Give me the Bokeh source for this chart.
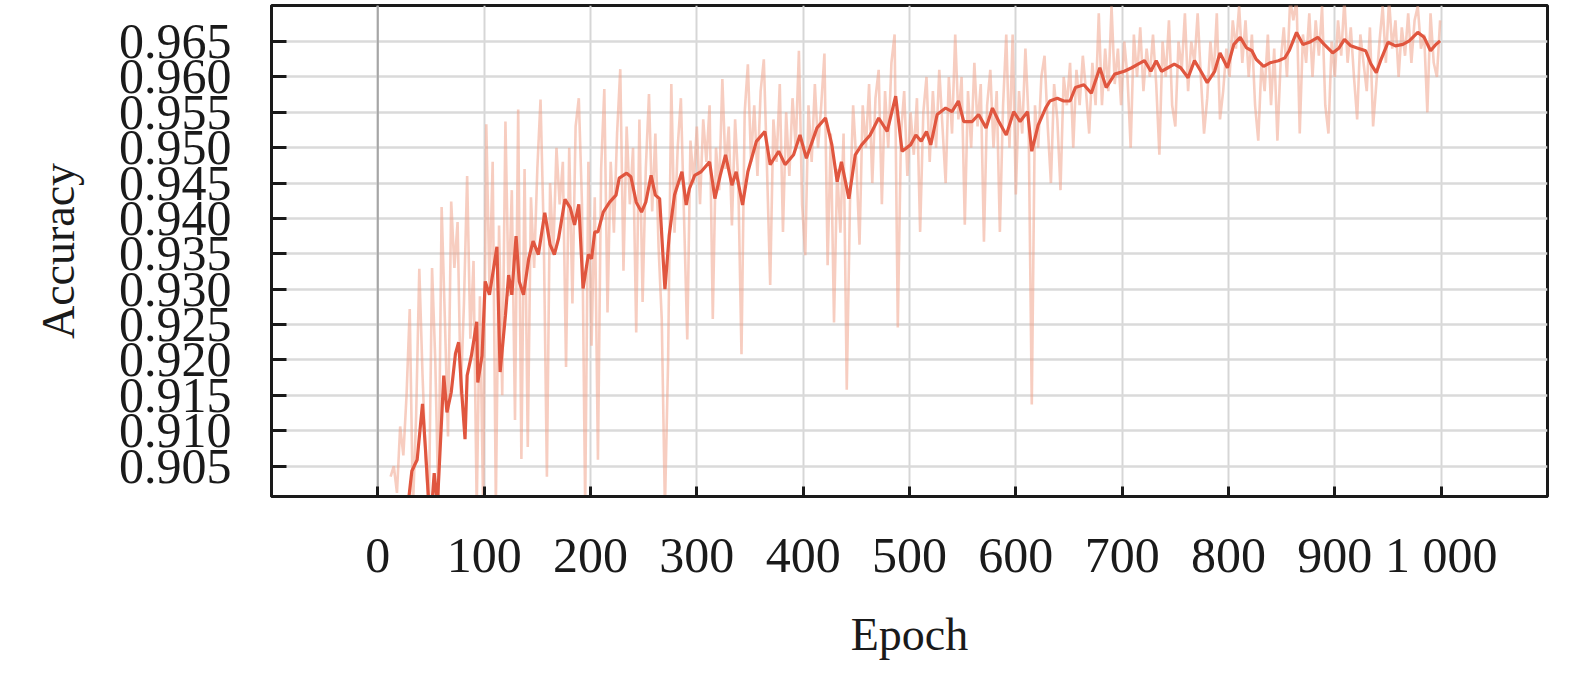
from bokeh.plotting import figure
from bokeh.models import FixedTicker, Range1d, Span, PrintfTickFormatter, ColumnDataSource
from bokeh.embed import file_html
from bokeh.resources import INLINE

# ---------------- data ----------------
x_ticks = [0, 100, 200, 300, 400, 500, 600, 700, 800, 900, 1000]
x_tick_labels = ["0", "100", "200", "300", "400", "500", "600", "700", "800", "900", "1 000"]
y_ticks = [0.905, 0.910, 0.915, 0.920, 0.925, 0.930, 0.935, 0.940, 0.945, 0.950, 0.955, 0.960, 0.965]

smooth_epoch = [28, 32, 37, 42, 45, 48, 51, 53, 56, 62, 65, 69, 73, 76, 79, 82, 84, 88, 93, 94,
                98, 101, 105, 112, 115, 120, 123, 126, 130, 133, 137, 142, 146, 151, 157, 162, 166,
                170, 176, 181, 185, 189, 193, 198, 201, 204, 207, 212, 218, 224, 227, 234, 238, 243,
                248, 252, 257, 261, 265, 270, 274, 279, 286, 290, 293, 298, 304, 312, 317, 322, 327,
                333, 337, 343, 348, 356, 364, 369, 377, 383, 391, 397, 403, 413, 421, 427, 432, 436,
                443, 449, 455, 463, 471, 479, 487, 493, 501, 506, 511, 516, 520, 526, 534, 540, 546,
                551, 559, 565, 572, 578, 584, 591, 598, 604, 611, 615, 621, 628, 632, 639, 645, 651,
                656, 664, 671, 679, 685, 693, 702, 709, 715, 721, 727, 732, 737, 743, 749, 755, 762,
                768, 774, 780, 787, 792, 799, 805, 811, 817, 822, 826, 833, 839, 847, 853, 857, 864,
                870, 876, 884, 890, 898, 904, 909, 915, 921, 929, 934, 939, 943, 950, 957, 964, 970,
                978, 984, 990, 995, 999]
smooth_acc = [0.8990, 0.9043, 0.9059, 0.9138, 0.9069, 0.8995, 0.8998, 0.9040, 0.8995, 0.9178,
              0.9126, 0.9154, 0.9209, 0.9225, 0.9152, 0.9088, 0.9178, 0.9206, 0.9254, 0.9168,
              0.9206, 0.9311, 0.9292, 0.9360, 0.9183, 0.9263, 0.9320, 0.9292, 0.9375, 0.9311,
              0.9292, 0.9344, 0.9368, 0.9349, 0.9408, 0.9363, 0.9349, 0.9372, 0.9427, 0.9415,
              0.9391, 0.9420, 0.9301, 0.9349, 0.9343, 0.9381, 0.9381, 0.9409, 0.9423, 0.9433,
              0.9457, 0.9464, 0.9459, 0.9423, 0.9409, 0.9423, 0.9461, 0.9433, 0.9428, 0.9300,
              0.9376, 0.9433, 0.9466, 0.9419, 0.9442, 0.9461, 0.9466, 0.9480, 0.9428, 0.9461,
              0.9490, 0.9447, 0.9466, 0.9419, 0.9466, 0.9509, 0.9523, 0.9476, 0.9495, 0.9476,
              0.9490, 0.9518, 0.9485, 0.9528, 0.9542, 0.9504, 0.9452, 0.9480, 0.9428, 0.9490,
              0.9504, 0.9518, 0.9542, 0.9523, 0.9573, 0.9495, 0.9504, 0.9518, 0.9509, 0.9523,
              0.9504, 0.9547, 0.9556, 0.9551, 0.9566, 0.9537, 0.9537, 0.9547, 0.9528, 0.9556,
              0.9537, 0.9518, 0.9551, 0.9537, 0.9551, 0.9495, 0.9532, 0.9556, 0.9566, 0.9570,
              0.9566, 0.9566, 0.9585, 0.9589, 0.9577, 0.9613, 0.9585, 0.9604, 0.9608, 0.9613,
              0.9618, 0.9623, 0.9608, 0.9623, 0.9608, 0.9613, 0.9618, 0.9613, 0.9599, 0.9623,
              0.9608, 0.9592, 0.9608, 0.9634, 0.9613, 0.9646, 0.9656, 0.9641, 0.9637, 0.9625,
              0.9615, 0.9620, 0.9623, 0.9627, 0.9637, 0.9663, 0.9646, 0.9649, 0.9656, 0.9646,
              0.9634, 0.9641, 0.9653, 0.9644, 0.9641, 0.9637, 0.9618, 0.9606, 0.9623, 0.9649,
              0.9644, 0.9646, 0.9651, 0.9663, 0.9656, 0.9637, 0.9646, 0.9651]

raw_epoch = list(range(12, 1000, 3))
raw_acc = [
    0.9035, 0.9050, 0.9012, 0.9106, 0.9065, 0.9150, 0.9272, 0.8990, 0.9120, 0.9329,
    0.9180, 0.9060, 0.8985, 0.9330, 0.9200, 0.8990, 0.9416, 0.9260, 0.9092, 0.9424,
    0.9330, 0.9395, 0.9150, 0.9280, 0.9460, 0.9230, 0.9340, 0.8990, 0.9290, 0.8995,
    0.9533, 0.9300, 0.9480, 0.8995, 0.9390, 0.9150, 0.9537, 0.9290, 0.9440, 0.9115,
    0.9554, 0.9060, 0.9470, 0.9077, 0.9430, 0.9330, 0.9470, 0.9568, 0.9380, 0.9035,
    0.9450, 0.9350, 0.9500, 0.9420, 0.9480, 0.9190, 0.9500, 0.9280, 0.9530, 0.9570,
    0.9420, 0.8990, 0.9480, 0.9220, 0.9430, 0.9059, 0.9470, 0.9583, 0.9267, 0.9480,
    0.9380, 0.9520, 0.9611, 0.9326, 0.9530, 0.9420, 0.9500, 0.9239, 0.9540, 0.9282,
    0.9470, 0.9576, 0.9410, 0.9520, 0.9360, 0.9258, 0.8990, 0.9200, 0.9590, 0.9380,
    0.9500, 0.9570, 0.9400, 0.9229, 0.9510, 0.9450, 0.9530, 0.9420, 0.9540, 0.9480,
    0.9560, 0.9258, 0.9500, 0.9440, 0.9597, 0.9470, 0.9530, 0.9390, 0.9540, 0.9450,
    0.9208, 0.9550, 0.9618, 0.9480, 0.9560, 0.9460, 0.9580, 0.9625, 0.9470, 0.9306,
    0.9540, 0.9480, 0.9590, 0.9381, 0.9550, 0.9460, 0.9570, 0.9500, 0.9637, 0.9420,
    0.9348, 0.9560, 0.9480, 0.9590, 0.9500, 0.9560, 0.9633, 0.9334, 0.9520, 0.9253,
    0.9470, 0.9380, 0.9520, 0.9158, 0.9420, 0.9560, 0.9480, 0.9363, 0.9560, 0.9500,
    0.9590, 0.9450, 0.9570, 0.9610, 0.9420, 0.9580, 0.9500, 0.9620, 0.9660, 0.9246,
    0.9520, 0.9580, 0.9460, 0.9550, 0.9490, 0.9570, 0.9381, 0.9550, 0.9600, 0.9480,
    0.9580, 0.9500, 0.9610, 0.9530, 0.9450, 0.9600, 0.9520, 0.9660, 0.9540, 0.9600,
    0.9391, 0.9580, 0.9500, 0.9620, 0.9530, 0.9590, 0.9367, 0.9560, 0.9610, 0.9500,
    0.9580, 0.9381, 0.9560, 0.9660, 0.9500, 0.9660, 0.9434, 0.9580, 0.9520, 0.9640,
    0.9540, 0.9137, 0.9560, 0.9500, 0.9600, 0.9630, 0.9530, 0.9450, 0.9590, 0.9540,
    0.9440, 0.9600, 0.9560, 0.9620, 0.9500, 0.9610, 0.9560, 0.9630, 0.9580, 0.9520,
    0.9620, 0.9560, 0.9690, 0.9560, 0.9640, 0.9580, 0.9700, 0.9590, 0.9640, 0.9560,
    0.9650, 0.9600, 0.9500, 0.9660, 0.9600, 0.9670, 0.9580, 0.9640, 0.9600, 0.9660,
    0.9590, 0.9490, 0.9650, 0.9600, 0.9680, 0.9560, 0.9530, 0.9650, 0.9610, 0.9690,
    0.9580, 0.9650, 0.9620, 0.9690, 0.9600, 0.9520, 0.9570, 0.9650, 0.9600, 0.9690,
    0.9540, 0.9580, 0.9640, 0.9600, 0.9680, 0.9640, 0.9700, 0.9620, 0.9680, 0.9600,
    0.9660, 0.9560, 0.9510, 0.9620, 0.9580, 0.9660, 0.9560, 0.9640, 0.9510, 0.9620,
    0.9670, 0.9600, 0.9710, 0.9680, 0.9710, 0.9520, 0.9660, 0.9620, 0.9690, 0.9600,
    0.9680, 0.9630, 0.9700, 0.9560, 0.9520, 0.9650, 0.9600, 0.9680, 0.9630, 0.9710,
    0.9620, 0.9670, 0.9600, 0.9540, 0.9660, 0.9620, 0.9580, 0.9670, 0.9530, 0.9590,
    0.9650, 0.9700, 0.9620, 0.9710, 0.9640, 0.9680, 0.9600, 0.9670, 0.9630, 0.9690,
    0.9620, 0.9680, 0.9700, 0.9640, 0.9660, 0.9550, 0.9690, 0.9620, 0.9600, 0.9680,
]
n = min(len(raw_epoch), len(raw_acc))
raw_epoch = raw_epoch[:n]
raw_acc = raw_acc[:n]

# ---------------- figure ----------------
FONT = "Liberation Serif"

p = figure(width=1565, height=665, output_backend="svg", toolbar_location=None,
           x_range=Range1d(-100, 1100), y_range=Range1d(0.9007, 0.9701),
           min_border_left=271, min_border_right=18, min_border_top=5, min_border_bottom=169)
p.background_fill_color = "white"
p.border_fill_color = "white"
p.outline_line_color = "#1a1a1a"
p.outline_line_width = 3

# grids
p.xgrid.ticker = FixedTicker(ticks=x_ticks)
p.ygrid.ticker = FixedTicker(ticks=y_ticks)
p.xgrid.grid_line_color = "#d6d6d6"
p.xgrid.grid_line_width = 2
p.ygrid.grid_line_color = "#dadada"
p.ygrid.grid_line_width = 2.5
p.add_layout(Span(location=0, dimension="height", line_color="#a6a6a6", line_width=2, level="underlay"))

# lines
raw_src = ColumnDataSource(dict(epoch=raw_epoch, acc=raw_acc))
sm_src = ColumnDataSource(dict(epoch=smooth_epoch, acc=smooth_acc))
p.line("epoch", "acc", source=raw_src, line_color="#f0a48c", line_alpha=0.55, line_width=2.6)
p.line("epoch", "acc", source=sm_src, line_color="#e0563f", line_width=3.2)

# axes
xa = p.xaxis[0]
xa.ticker = FixedTicker(ticks=x_ticks)
xa.major_label_overrides = {t: l for t, l in zip(x_ticks, x_tick_labels)}
xa.axis_label = "Epoch"
ya = p.yaxis[0]
ya.ticker = FixedTicker(ticks=y_ticks)
ya.formatter = PrintfTickFormatter(format="%.3f")
ya.axis_label = "Accuracy"

for ax in (xa, ya):
    ax.axis_line_color = "#1a1a1a"
    ax.axis_line_width = 3
    ax.major_tick_line_color = "#1a1a1a"
    ax.major_tick_line_width = 3
    ax.major_tick_out = 0
    ax.minor_tick_in = 0
    ax.minor_tick_out = 0
    ax.major_label_text_font = FONT
    ax.major_label_text_font_size = "50px"
    ax.major_label_text_color = "#1a1a1a"
    ax.axis_label_text_font = FONT
    ax.axis_label_text_font_size = "46px"
    ax.axis_label_text_font_style = "normal"
    ax.axis_label_text_color = "#1a1a1a"

xa.major_tick_in = 10
xa.major_label_standoff = 30
xa.axis_label_standoff = 23
ya.major_tick_in = 15
ya.major_label_standoff = 40
ya.axis_label_standoff = 32
ya.major_label_orientation = "horizontal"

open("out.html", "w").write(file_html(p, INLINE))
